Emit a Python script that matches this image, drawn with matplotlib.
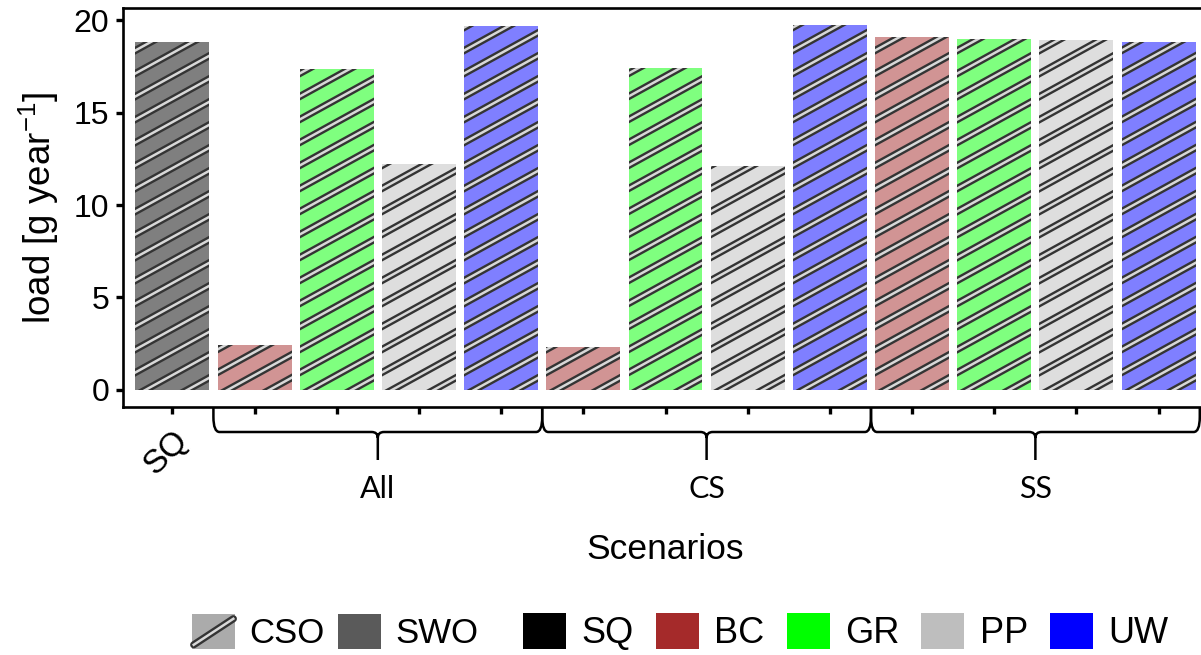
import numpy as np
import matplotlib
matplotlib.use('Agg')
import matplotlib.pyplot as plt
from matplotlib.patches import Patch, Rectangle, PathPatch
from matplotlib.path import Path
from matplotlib.lines import Line2D
from matplotlib.legend_handler import HandlerBase

# Data.
scenarios = ['SQ', 'All', 'All', 'All', 'All', 'CS', 'CS', 'CS', 'CS',
             'SS', 'SS', 'SS', 'SS']
measures = ['SQ', 'BC', 'GR', 'PP', 'UW', 'BC', 'GR', 'PP', 'UW',
            'BC', 'GR', 'PP', 'UW']
loads = [18.83, 2.43, 17.35, 12.22, 19.65, 2.32, 17.4, 12.1, 19.73,
         19.06, 18.95, 18.92, 18.83]
groups = ['All', 'CS', 'SS']
measure_names = ['SQ', 'BC', 'GR', 'PP', 'UW']
overflow_names = ['CSO', 'SWO']

measure_colors = {'SQ': '#000000', 'BC': '#a52a2a', 'GR': '#00ff00',
                  'PP': '#bebebe', 'UW': '#0000ff'}
overflow_colors = {'CSO': '#ababab', 'SWO': '#5a5a5a'}

STRIPE_DARK = '#343434'
STRIPE_LIGHT = '#d8d8d8'

plt.rcParams['font.family'] = ['Liberation Sans', 'DejaVu Sans']
plt.rcParams['mathtext.fontset'] = 'custom'
plt.rcParams['mathtext.rm'] = 'Liberation Sans'
plt.rcParams['mathtext.it'] = 'Liberation Sans:italic'
plt.rcParams['mathtext.bf'] = 'Liberation Sans:bold'


class StripeHandler(HandlerBase):
    """Legend key: grey box with one double-line stripe."""

    def create_artists(self, legend, orig_handle, xdescent, ydescent,
                       width, height, fontsize, trans):
        x0, y0 = -xdescent, -ydescent
        rect = Rectangle((x0, y0), width, height,
                         facecolor=orig_handle.get_facecolor(),
                         edgecolor='none', transform=trans)
        xs = [x0 + 0.04 * width, x0 + 0.96 * width]
        ys = [y0 + 0.12 * height, y0 + 0.86 * height]
        dark = Line2D(xs, ys, color=STRIPE_DARK, lw=5.2, transform=trans,
                      solid_capstyle='round')
        light = Line2D(xs, ys, color=STRIPE_LIGHT, lw=1.8, transform=trans)
        return [rect, dark, light]


def add_stripes(ax, bar, slope=0.55, step=23.0):
    """Draw ggpattern-like stripes (in pixel space) clipped to a bar."""
    (x0, y0), (x1, y1) = ax.transData.transform(
        [(bar.get_x(), bar.get_y()),
         (bar.get_x() + bar.get_width(), bar.get_y() + bar.get_height())])
    inv = ax.transData.inverted()
    c0 = y0 - slope * (x0 + 10)
    k_min = int(np.floor((y0 - slope * x1 - c0) / step)) - 1
    k_max = int(np.ceil((y1 - slope * x0 - c0) / step)) + 1
    for k in range(k_min, k_max + 1):
        c = c0 + k * step
        px = np.array([x0 - 10, x1 + 10])
        pts = inv.transform(np.column_stack([px, slope * px + c]))
        for lw, col in ((5.2, STRIPE_DARK), (1.8, STRIPE_LIGHT)):
            line, = ax.plot(pts[:, 0], pts[:, 1], color=col, lw=lw,
                            solid_capstyle='butt', zorder=3)
            line.set_clip_path(bar)


def add_brace(ax, xa, xb, y_top, y_mid, y_tip, dx, dy):
    """Curly brace under the x axis, x in data and y in axes units."""
    xm = (xa + xb) / 2
    verts = [
        (xa, y_top), (xa, y_mid + 2.5 * dy), (xa, y_mid), (xa + dx, y_mid),
        (xm - dx, y_mid), (xm, y_mid), (xm, y_mid - dy), (xm, y_tip),
        (xb, y_top), (xb, y_mid + 2.5 * dy), (xb, y_mid), (xb - dx, y_mid),
        (xm + dx, y_mid), (xm, y_mid), (xm, y_mid - dy),
    ]
    codes = [
        Path.MOVETO, Path.LINETO, Path.CURVE3, Path.CURVE3,
        Path.LINETO, Path.CURVE3, Path.CURVE3, Path.LINETO,
        Path.MOVETO, Path.LINETO, Path.CURVE3, Path.CURVE3,
        Path.LINETO, Path.CURVE3, Path.CURVE3,
    ]
    patch = PathPatch(Path(verts, codes), facecolor='none',
                      edgecolor='black', lw=1.8,
                      transform=ax.get_xaxis_transform(), clip_on=False)
    ax.add_patch(patch)


W, H = 1201, 655
fig = plt.figure(figsize=(W / 100, H / 100), dpi=100)
ax = fig.add_axes([123 / W, (H - 407) / H, (1208 - 123) / W, 399 / H])

x = np.arange(1, len(loads) + 1)
bars = ax.bar(x, loads, width=0.9,
              color=[measure_colors[m] for m in measures],
              alpha=0.5, linewidth=0, zorder=2)
ax.set_xlim(0.4, len(loads) + 0.6)
ax.set_ylim(-0.92, 20.65)

for bar in bars:
    add_stripes(ax, bar)

# Axes styling.
for side in ['left', 'bottom', 'top', 'right']:
    ax.spines[side].set_linewidth(1.9)
ax.set_yticks([0, 5, 10, 15, 20])
ax.set_xticks(x)
ax.set_xticklabels(['SQ'] + [''] * (len(x) - 1), rotation=45,
                   ha='right', rotation_mode='anchor')
ax.tick_params(axis='both', length=5, width=2.4, color='black',
               labelsize=23, pad=5)
ax.tick_params(axis='x', labelsize=24, pad=8)
ax.set_ylabel('load [g year$^{-1}$]', fontsize=26.5, labelpad=9)
ax.set_xlabel('Scenarios', fontsize=25.5, va='center')
ax.xaxis.set_label_coords(0.5, -0.358)

# Group braces and their labels.
px_to_axes = 1 / 399
scen = np.array(scenarios)
for g in groups:
    idx = x[scen == g]
    xa, xb = idx.min() - 0.5, idx.max() + 0.5
    add_brace(ax, xa, xb, y_top=-1 * px_to_axes, y_mid=-25 * px_to_axes,
              y_tip=-53 * px_to_axes, dx=0.075, dy=6 * px_to_axes)
    ax.text((xa + xb) / 2, -82 * px_to_axes, g,
            transform=ax.get_xaxis_transform(),
            ha='center', va='center', fontsize=22, family='Lato')

# Legends.
legend_kw = dict(loc='center left', frameon=False,
                 borderpad=0, borderaxespad=0)
overflow_handles = [Patch(facecolor=overflow_colors[n], label=n)
                    for n in overflow_names]
fig.legend(handles=overflow_handles, ncol=2,
           bbox_to_anchor=(192 / W, 1 - 632 / H), fontsize=25,
           handlelength=1.24, handleheight=1.18, handletextpad=0.42,
           columnspacing=0.38,
           handler_map={overflow_handles[0]: StripeHandler()}, **legend_kw)
measure_handles = [Patch(facecolor=measure_colors[m], label=m)
                   for m in measure_names]
fig.legend(handles=measure_handles, ncol=len(measure_handles),
           bbox_to_anchor=(523 / W, 1 - 632 / H), fontsize=26,
           handlelength=1.19, handleheight=1.14, handletextpad=0.42,
           columnspacing=0.62, **legend_kw)

fig.savefig('out.png', dpi=100)
